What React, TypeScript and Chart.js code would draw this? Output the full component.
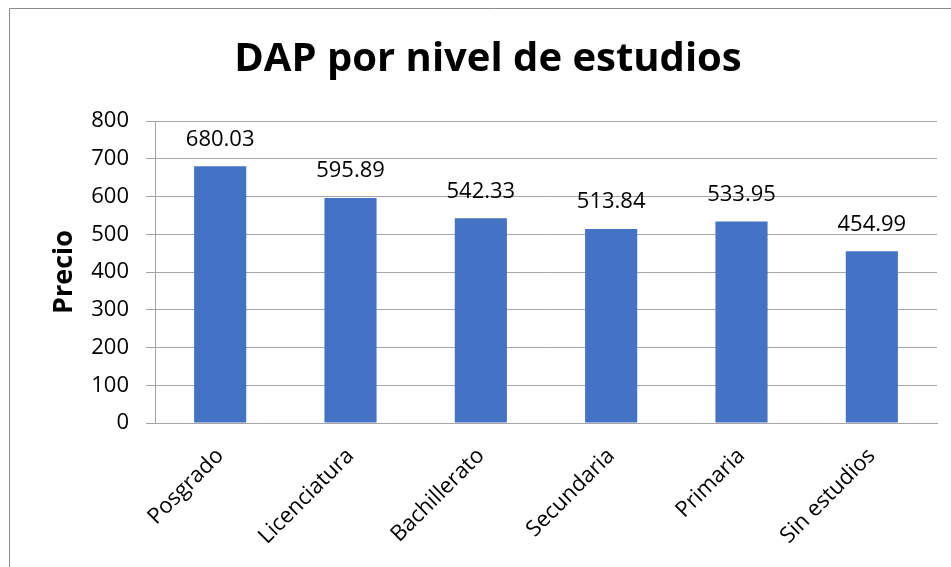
import React, { useEffect, useRef } from "react";
import { Chart, registerables } from "chart.js";

Chart.register(...registerables);

const categories = ["Posgrado", "Licenciatura", "Bachillerato", "Secundaria", "Primaria", "Sin estudios"];
const values = [680.03, 595.89, 542.33, 513.84, 533.95, 454.99];
const chartTitle = "DAP por nivel de estudios";
const yAxisTitle = "Precio";

const W = 980;
const H = 620;
const FONT = "'Open Sans', sans-serif";

const borderPlugin = {
  id: "outerBorder",
  beforeDraw(chart: any) {
    const ctx = chart.ctx;
    ctx.save();
    ctx.fillStyle = "#ffffff";
    ctx.fillRect(0, 0, chart.width, chart.height);
    ctx.strokeStyle = "#8c8c8c";
    ctx.lineWidth = 1;
    ctx.beginPath();
    ctx.moveTo(9.5, chart.height);
    ctx.lineTo(9.5, 8.5);
    ctx.lineTo(chart.width, 8.5);
    ctx.stroke();
    ctx.restore();
  },
};

const labelPlugin = {
  id: "barValueLabels",
  afterDatasetsDraw(chart: any) {
    const ctx = chart.ctx;
    const meta = chart.getDatasetMeta(0);
    ctx.save();
    ctx.font = `22px ${FONT}`;
    ctx.fillStyle = "#000000";
    ctx.textAlign = "center";
    ctx.textBaseline = "middle";
    meta.data.forEach((bar: any, i: number) => {
      ctx.fillText(values[i].toFixed(2), bar.x, bar.y - 27);
    });
    ctx.restore();
  },
};

export default function App() {
  const ref = useRef<HTMLCanvasElement | null>(null);
  useEffect(() => {
    if (!ref.current) return;
    const chart = new Chart(ref.current, {
      type: "bar",
      data: {
        labels: categories,
        datasets: [
          {
            data: values,
            backgroundColor: "#4472C4",
            borderWidth: 0,
            barPercentage: 0.4,
            categoryPercentage: 1,
          },
        ],
      },
      plugins: [borderPlugin, labelPlugin],
      options: {
        responsive: false,
        animation: false,
        devicePixelRatio: 1,
        layout: { padding: { left: 9, right: W - 967, top: 0, bottom: 0 } },
        plugins: {
          legend: { display: false },
          tooltip: { enabled: false },
          title: {
            display: true,
            text: chartTitle,
            color: "#000000",
            font: { family: FONT, size: 40, weight: "bold", lineHeight: 1.2 },
            padding: { top: 36, bottom: 37 },
          },
        },
        scales: {
          x: {
            grid: { display: false, drawTicks: false },
            border: { display: true, color: "#a6a6a6" },
            ticks: {
              color: "#000000",
              font: { family: FONT, size: 22 },
              minRotation: 45,
              maxRotation: 45,
              padding: 20,
              autoSkip: false,
            },
            afterFit(scale: any) {
              scale.height = H - 423;
            },
          },
          y: {
            min: 0,
            max: 800,
            ticks: {
              stepSize: 100,
              color: "#000000",
              font: { family: FONT, size: 22 },
              padding: 17,
            },
            grid: { color: "#a6a6a6", drawTicks: true, tickLength: 9, lineWidth: 1 },
            border: { display: true, color: "#a6a6a6" },
            title: {
              display: true,
              text: yAxisTitle,
              color: "#000000",
              font: { family: FONT, size: 27, weight: "bold", lineHeight: 1.2 },
              padding: { top: 38.8, bottom: 0 },
            },
            afterFit(scale: any) {
              scale.width = 155 - 9;
            },
          },
          yRightSpacer: {
            position: "right",
            display: true,
            grid: { display: false, drawTicks: false },
            border: { display: false },
            ticks: { display: false },
            afterFit(scale: any) {
              scale.width = 30;
            },
          },
        },
      },
    } as any);
    return () => chart.destroy();
  }, []);

  return (
    <div style={{ position: "fixed", left: 0, top: 0, right: 0, bottom: 0, overflow: "hidden", background: "#fff" }}>
      <canvas
        ref={ref}
        width={W}
        height={H}
        style={{ position: "absolute", left: 0, top: 0, width: W, height: H }}
      />
    </div>
  );
}
